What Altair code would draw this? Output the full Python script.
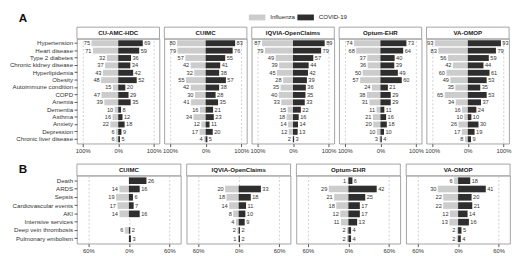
import altair as alt
import pandas as pd

conditions = ["Hypertension", "Heart disease", "Type 2 diabetes", "Chronic kidney disease",
              "Hyperlipidemia", "Obesity", "Autoimmune condition", "COPD", "Anemia",
              "Dementia", "Asthma", "Anxiety", "Depression", "Chronic liver disease"]
sites_a = ["CU-AMC-HDC", "CUIMC", "IQVIA-OpenClaims", "Optum-EHR", "VA-OMOP"]

cu_amc_flu = [75, 71, 32, 37, 43, 48, 15, 47, 39, 10, 16, 22, 6, 6]
cu_amc_covid = [69, 59, 36, 34, 42, 52, 20, 29, 35, 8, 12, 18, 9, 5]
cuimc_a_flu = [80, 79, 57, 42, 32, 55, 42, 30, 41, 16, 34, 12, 17, 4]
cuimc_a_covid = [83, 76, 55, 41, 38, 57, 38, 28, 35, 21, 23, 11, 20, 5]
iqvia_a_flu = [87, 79, 49, 39, 45, 28, 35, 40, 33, 15, 18, 14, 12, 2]
iqvia_a_covid = [89, 79, 57, 44, 42, 39, 36, 35, 33, 22, 16, 14, 13, 3]
optum_a_flu = [74, 68, 37, 36, 50, 57, 24, 38, 31, 11, 21, 20, 10, 3]
optum_a_covid = [73, 64, 40, 39, 49, 60, 21, 29, 29, 11, 16, 18, 10, 4]
va_a_flu = [93, 83, 56, 42, 60, 49, 35, 65, 34, 16, 10, 26, 17, 8]
va_a_covid = [93, 79, 59, 44, 61, 53, 35, 53, 37, 24, 10, 30, 19, 9]

outcomes = ["Death", "ARDS", "Sepsis", "Cardiovascular events", "AKI",
            "Intensive services", "Deep vein thrombosis", "Pulmonary embolism"]
sites_b = ["CUIMC", "IQVIA-OpenClaims", "Optum-EHR", "VA-OMOP"]

cuimc_b_flu = [None, 14, 19, 17, 14, None, 6, None]
cuimc_b_covid = [26, 16, 6, 7, 16, None, 2, 3]
iqvia_b_flu = [None, 20, 18, 14, 8, 4, 2, 1]
iqvia_b_covid = [None, 33, 18, 11, 10, 9, 2, 2]
optum_b_flu = [1, 29, 21, 18, 12, 11, 2, 2]
optum_b_covid = [6, 42, 25, 17, 17, 13, 4, 4]
va_b_flu = [6, 30, 22, 22, 12, 13, 2, 2]
va_b_covid = [18, 41, 20, 21, 14, 16, 5, 4]

ticks_a = [-100, -50, 0, 50, 100]
ticks_b = [-60, -30, 0, 30, 60]

FONT = "Liberation Sans"
FLU_COL = "#cccccc"
COV_COL = "#2e2e2e"


def make_df(cats, flu, cov):
    rows = []
    for c, f, v in zip(cats, flu, cov):
        if f is not None:
            rows.append({"cond": c, "group": "Influenza", "value": -f, "label": str(f)})
        if v is not None:
            rows.append({"cond": c, "group": "COVID-19", "value": v, "label": str(v)})
    return pd.DataFrame(rows)


def panel(df, title, cats, domain, ticks, w, h, show_y, extras=()):
    base = alt.Chart(df)
    xenc = alt.X("value:Q", title=None,
                 scale=alt.Scale(domain=domain, nice=False, zero=False),
                 axis=alt.Axis(values=ticks, labelExpr="abs(datum.value) + '%'",
                               grid=True, gridDash=[2, 2], gridColor="#d0d0d0",
                               tickSize=3, labelPadding=1.5, labelFontSize=6))
    yscale = alt.Scale(domain=cats, paddingInner=0.2, paddingOuter=0.2)
    if show_y:
        yenc = alt.Y("cond:N", title=None, sort=cats, scale=yscale,
                     axis=alt.Axis(tickSize=3, labelPadding=1.5, labelLimit=200,
                                   labelFontSize=6.3, minExtent=10, grid=False))
    else:
        yenc = alt.Y("cond:N", title=None, sort=cats, scale=yscale, axis=None)
    bars = base.mark_bar().encode(
        x=xenc, x2=alt.datum(0), y=yenc,
        color=alt.Color("group:N", legend=None,
                        scale=alt.Scale(domain=["Influenza", "COVID-19"],
                                        range=[FLU_COL, COV_COL])))
    tflu = base.transform_filter("datum.group == 'Influenza'").mark_text(
        align="right", baseline="middle", dx=-1.5, fontSize=5.8, font=FONT, color="#333"
    ).encode(x="value:Q", y=alt.Y("cond:N", sort=cats), text="label:N")
    tcov = base.transform_filter("datum.group == 'COVID-19'").mark_text(
        align="left", baseline="middle", dx=1.5, fontSize=5.8, font=FONT, color="#333"
    ).encode(x="value:Q", y=alt.Y("cond:N", sort=cats), text="label:N")
    sdf = pd.DataFrame({"t": [title]})
    strip = alt.Chart(sdf).mark_rect(fill="white", stroke="#8a8a8a", strokeWidth=0.8).encode(
        x=alt.value(0), x2=alt.value(w), y=alt.value(-12), y2=alt.value(0))
    stext = alt.Chart(sdf).mark_text(fontWeight="bold", fontSize=6.3, font=FONT,
                                     color="#222", baseline="middle").encode(
        x=alt.value(w / 2), y=alt.value(-6), text="t:N")
    layers = [bars, tflu, tcov, strip, stext] + list(extras)
    return alt.layer(*layers).properties(width=w, height=h)


WA, HA = 85, 108
WB, HB = 107, 70

flu_a = [cu_amc_flu, cuimc_a_flu, iqvia_a_flu, optum_a_flu, va_a_flu]
cov_a = [cu_amc_covid, cuimc_a_covid, iqvia_a_covid, optum_a_covid, va_a_covid]
flu_b = [cuimc_b_flu, iqvia_b_flu, optum_b_flu, va_b_flu]
cov_b = [cuimc_b_covid, iqvia_b_covid, optum_b_covid, va_b_covid]

one = pd.DataFrame({"t": ["x"]})
letter_a = alt.Chart(one).mark_text(text="A", fontSize=12, fontWeight="bold", font=FONT,
                                    align="left", baseline="top", color="#111").encode(
    x=alt.value(-60), y=alt.value(-26))
letter_b = alt.Chart(one).mark_text(text="B", fontSize=12, fontWeight="bold", font=FONT,
                                    align="left", baseline="top", color="#111").encode(
    x=alt.value(-60), y=alt.value(-12))
leg_flu_box = alt.Chart(one).mark_rect(fill=FLU_COL).encode(
    x=alt.value(177), x2=alt.value(194), y=alt.value(-25), y2=alt.value(-19))
leg_flu_txt = alt.Chart(one).mark_text(text="Influenza", fontSize=6.3, font=FONT, align="left",
                                       baseline="middle", color="#222").encode(
    x=alt.value(199), y=alt.value(-22))
leg_cov_box = alt.Chart(one).mark_rect(fill=COV_COL).encode(
    x=alt.value(227), x2=alt.value(244), y=alt.value(-25), y2=alt.value(-19))
leg_cov_txt = alt.Chart(one).mark_text(text="COVID-19", fontSize=6.3, font=FONT, align="left",
                                       baseline="middle", color="#222").encode(
    x=alt.value(249), y=alt.value(-22))

panels_a = []
for i, s in enumerate(sites_a):
    extras = [letter_a, leg_flu_box, leg_flu_txt, leg_cov_box, leg_cov_txt] if i == 0 else []
    panels_a.append(panel(make_df(conditions, flu_a[i], cov_a[i]), s, conditions,
                          [-116, 116], ticks_a, WA, HA, i == 0, extras))
panels_b = []
for i, s in enumerate(sites_b):
    extras = [letter_b] if i == 0 else []
    panels_b.append(panel(make_df(outcomes, flu_b[i], cov_b[i]), s, outcomes,
                          [-77, 77], ticks_b, WB, HB, i == 0, extras))

row_a = alt.hconcat(*panels_a, spacing=5, bounds="flush")
row_b = alt.hconcat(*panels_b, spacing=6, bounds="flush")

chart = alt.vconcat(row_a, row_b, spacing=8).properties(
    padding=0, background="white"
).configure_view(stroke="#8a8a8a", strokeWidth=0.8).configure_axis(
    labelFont=FONT, labelColor="#333", tickColor="#555", domain=False
)

chart.save("out.html", embed_options={"renderer": "svg", "actions": False})
